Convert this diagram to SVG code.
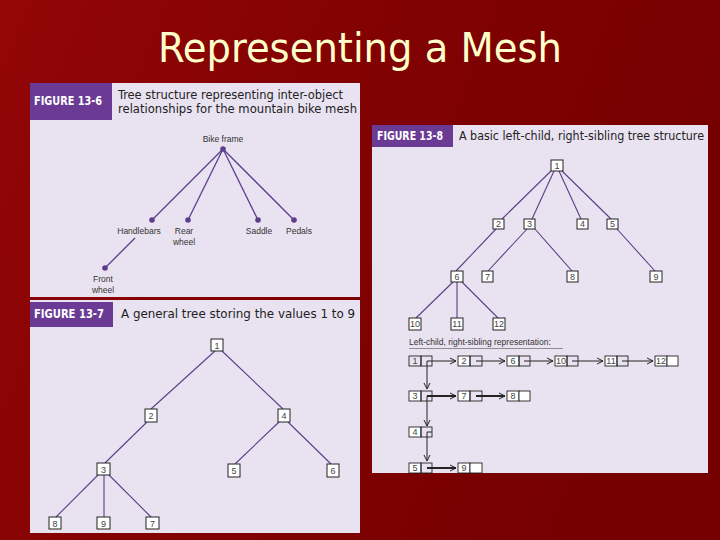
<svg xmlns="http://www.w3.org/2000/svg" width="720" height="540" viewBox="0 0 720 540">
<defs>
<linearGradient id="bg" x1="0" y1="0" x2="1" y2="0.3">
<stop offset="0" stop-color="#930606"/>
<stop offset="0.5" stop-color="#820202"/>
<stop offset="1" stop-color="#760000"/>
</linearGradient>
<marker id="ah" markerUnits="userSpaceOnUse" markerWidth="10" markerHeight="10" refX="7" refY="4" orient="auto">
<path d="M1,1 L7,4 L1,7" fill="none" stroke="#222" stroke-width="1"/>
</marker>
<style>
.panel{fill:#E9E3F1}
.hdr{fill:#6A3A95}
.fig{font-family:"DejaVu Sans Condensed","Liberation Sans Narrow","Liberation Sans",sans-serif;font-weight:bold;font-size:12px;fill:#fff}
.cap{font-family:"DejaVu Sans Condensed","Liberation Sans Narrow","Liberation Sans",sans-serif;font-size:12.5px;fill:#222}
.lbl{font-family:"Liberation Sans",Arial,sans-serif;font-size:8.5px;fill:#333;text-anchor:middle}
.edge{stroke:#5E3E8C;stroke-width:1.3;fill:none}
.edge2{stroke:#5B3E88;stroke-width:1.1;fill:none}
.dot{fill:#5E3E8C}
.box{fill:#fff;stroke:#222;stroke-width:1}
.num{font-family:"Liberation Sans",Arial,sans-serif;font-size:9px;fill:#444;text-anchor:middle}
.cell{fill:#fff;stroke:#222;stroke-width:0.9}
.ptr{stroke:#222;stroke-width:1;fill:none}
.ptrb{stroke:#222;stroke-width:2;fill:none}
</style>
</defs>
<rect x="0" y="0" width="720" height="540" fill="url(#bg)"/>
<text x="360" y="62" text-anchor="middle" font-family="'DejaVu Sans Condensed','Liberation Sans',sans-serif" font-size="40" fill="#FFFFCC" textLength="404" lengthAdjust="spacingAndGlyphs">Representing a Mesh</text>

<!-- Figure 13-6 -->
<g id="fig13-6">
<rect class="panel" x="30" y="83" width="330" height="214"/>
<rect class="hdr" x="30" y="83" width="82" height="37"/>
<text class="fig" x="34" y="105" textLength="68" lengthAdjust="spacingAndGlyphs">FIGURE 13-6</text>
<text class="cap" x="118" y="99" textLength="225" lengthAdjust="spacingAndGlyphs">Tree structure representing inter-object</text>
<text class="cap" x="118" y="113" textLength="239" lengthAdjust="spacingAndGlyphs">relationships for the mountain bike mesh</text>
</g>
<g id="bike-connectors">
<line class="edge" x1="223" y1="149" x2="152" y2="220"/>
<line class="edge" x1="223" y1="149" x2="188" y2="220"/>
<line class="edge" x1="223" y1="149" x2="258" y2="220"/>
<line class="edge" x1="223" y1="149" x2="294" y2="220"/>
<line class="edge" x1="135" y1="238" x2="105" y2="268"/>
</g>
<g id="bike-frame"><circle class="dot" cx="223" cy="149" r="2.8"/><text class="lbl" x="223" y="142">Bike frame</text></g>
<g id="handlebars"><circle class="dot" cx="152" cy="220" r="2.8"/><text class="lbl" x="139" y="234">Handlebars</text></g>
<g id="rear-wheel"><circle class="dot" cx="188" cy="220" r="2.8"/><text class="lbl" x="184" y="234">Rear</text><text class="lbl" x="184" y="245">wheel</text></g>
<g id="saddle"><circle class="dot" cx="258" cy="220" r="2.8"/><text class="lbl" x="259" y="234">Saddle</text></g>
<g id="pedals"><circle class="dot" cx="294" cy="220" r="2.8"/><text class="lbl" x="299" y="234">Pedals</text></g>
<g id="front-wheel"><circle class="dot" cx="105" cy="268" r="2.8"/><text class="lbl" x="103" y="282">Front</text><text class="lbl" x="103" y="293">wheel</text></g>

<!-- Figure 13-7 -->
<g id="fig13-7">
<rect class="panel" x="30" y="300" width="330" height="233"/>
<rect class="hdr" x="30" y="302" width="83" height="25"/>
<text class="fig" x="34" y="318" textLength="70" lengthAdjust="spacingAndGlyphs">FIGURE 13-7</text>
<text class="cap" x="121" y="318" textLength="234" lengthAdjust="spacingAndGlyphs">A general tree storing the values 1 to 9</text>
</g>
<g id="gt-connectors">
<line class="edge2" x1="215" y1="351" x2="151" y2="409"/>
<line class="edge2" x1="222" y1="351" x2="283" y2="409"/>
<line class="edge2" x1="147" y1="422" x2="105" y2="463"/>
<line class="edge2" x1="279" y1="422" x2="235" y2="464"/>
<line class="edge2" x1="288" y1="422" x2="331" y2="464"/>
<line class="edge2" x1="98" y1="475" x2="56" y2="517"/>
<line class="edge2" x1="104" y1="475" x2="104" y2="517"/>
<line class="edge2" x1="109" y1="475" x2="151" y2="517"/>
</g>
<g id="gt1"><rect class="box" x="211" y="339" width="12" height="12"/><text class="num" x="217" y="348.5">1</text></g>
<g id="gt2"><rect class="box" x="145" y="409" width="12" height="13"/><text class="num" x="151" y="419">2</text></g>
<g id="gt4"><rect class="box" x="278" y="409" width="12" height="13"/><text class="num" x="284" y="419">4</text></g>
<g id="gt3"><rect class="box" x="97" y="463" width="13" height="12"/><text class="num" x="103.5" y="472.5">3</text></g>
<g id="gt5"><rect class="box" x="228" y="464" width="12" height="13"/><text class="num" x="234" y="474">5</text></g>
<g id="gt6"><rect class="box" x="327" y="464" width="12" height="13"/><text class="num" x="333" y="474">6</text></g>
<g id="gt8"><rect class="box" x="49" y="517" width="12" height="12"/><text class="num" x="55" y="526.5">8</text></g>
<g id="gt9"><rect class="box" x="97" y="517" width="13" height="12"/><text class="num" x="103.5" y="526.5">9</text></g>
<g id="gt7"><rect class="box" x="146" y="517" width="13" height="12"/><text class="num" x="152.5" y="526.5">7</text></g>

<!-- Figure 13-8 -->
<g id="fig13-8">
<rect class="panel" x="372" y="125" width="336" height="348"/>
<rect class="hdr" x="372" y="125" width="81" height="22"/>
<text class="fig" x="377" y="140" textLength="66" lengthAdjust="spacingAndGlyphs">FIGURE 13-8</text>
<text class="cap" x="459" y="140" textLength="245" lengthAdjust="spacingAndGlyphs">A basic left-child, right-sibling tree structure</text>
</g>
<g id="lc-connectors">
<line class="edge2" x1="551" y1="171" x2="502" y2="219"/>
<line class="edge2" x1="554" y1="171" x2="532" y2="219"/>
<line class="edge2" x1="559" y1="171" x2="581" y2="219"/>
<line class="edge2" x1="562" y1="171" x2="611" y2="219"/>
<line class="edge2" x1="496" y1="229" x2="456" y2="271"/>
<line class="edge2" x1="527" y1="229" x2="488" y2="271"/>
<line class="edge2" x1="535" y1="229" x2="572" y2="271"/>
<line class="edge2" x1="617" y1="229" x2="655" y2="271"/>
<line class="edge2" x1="453" y1="282" x2="416" y2="318"/>
<line class="edge2" x1="457" y1="282" x2="457" y2="318"/>
<line class="edge2" x1="462" y1="282" x2="498" y2="318"/>
</g>
<g id="lc1"><rect class="box" x="551" y="160" width="12" height="11"/><text class="num" x="557" y="168.5">1</text></g>
<g id="lc2"><rect class="box" x="493" y="219" width="11" height="10"/><text class="num" x="498.5" y="227">2</text></g>
<g id="lc3"><rect class="box" x="524" y="219" width="11" height="10"/><text class="num" x="529.5" y="227">3</text></g>
<g id="lc4"><rect class="box" x="577" y="219" width="11" height="10"/><text class="num" x="582.5" y="227">4</text></g>
<g id="lc5"><rect class="box" x="607" y="219" width="11" height="10"/><text class="num" x="612.5" y="227">5</text></g>
<g id="lc6"><rect class="box" x="451" y="271" width="12" height="11"/><text class="num" x="457" y="279.5">6</text></g>
<g id="lc7"><rect class="box" x="482" y="271" width="11" height="11"/><text class="num" x="487.5" y="279.5">7</text></g>
<g id="lc8"><rect class="box" x="567" y="271" width="11" height="11"/><text class="num" x="572.5" y="279.5">8</text></g>
<g id="lc9"><rect class="box" x="650" y="271" width="12" height="11"/><text class="num" x="656" y="279.5">9</text></g>
<g id="lc10"><rect class="box" x="409" y="318" width="12" height="12"/><text class="num" x="415" y="327">10</text></g>
<g id="lc11"><rect class="box" x="451" y="318" width="12" height="12"/><text class="num" x="457" y="327">11</text></g>
<g id="lc12"><rect class="box" x="493" y="318" width="12" height="12"/><text class="num" x="499" y="327">12</text></g>

<text x="409" y="345" font-family="'Liberation Sans',Arial,sans-serif" font-size="8.5" fill="#333">Left-child, right-sibling representation:</text>
<line x1="409" y1="348.5" x2="563" y2="348.5" stroke="#777" stroke-width="0.8"/>

<g id="ll-connectors">
<path class="ptr" d="M427,361 H456" marker-end="url(#ah)"/>
<path class="ptr" d="M476,361 H505" marker-end="url(#ah)"/>
<path class="ptr" d="M524,361 H553" marker-end="url(#ah)"/>
<path class="ptr" d="M572,361 H603" marker-end="url(#ah)"/>
<path class="ptr" d="M622,361 H653" marker-end="url(#ah)"/>
<path class="ptr" d="M427,361 V389" marker-end="url(#ah)"/>
<path class="ptr" d="M427,396 V426" marker-end="url(#ah)"/>
<path class="ptr" d="M427,432 V461" marker-end="url(#ah)"/>
<path class="ptr" d="M427,432 H432"/>
<path class="ptrb" d="M427,396 H456" marker-end="url(#ah)"/>
<path class="ptrb" d="M476,396 H505" marker-end="url(#ah)"/>
<path class="ptrb" d="M427,468 H456" marker-end="url(#ah)"/>
</g>
<g id="ll1"><rect class="cell" x="409" y="356" width="12" height="10" fill-opacity="0"/><rect class="cell" x="421" y="356" width="11" height="10" fill-opacity="0"/><text class="num" x="415" y="364">1</text></g>
<g id="ll2"><rect class="cell" x="458" y="356" width="12" height="10"/><rect class="cell" x="470" y="356" width="12" height="10" fill-opacity="0"/><text class="num" x="464" y="364">2</text></g>
<g id="ll6"><rect class="cell" x="507" y="356" width="12" height="10"/><rect class="cell" x="519" y="356" width="11" height="10" fill-opacity="0"/><text class="num" x="513" y="364">6</text></g>
<g id="ll10"><rect class="cell" x="555" y="356" width="12" height="10"/><rect class="cell" x="567" y="356" width="11" height="10" fill-opacity="0"/><text class="num" x="561" y="364">10</text></g>
<g id="ll11"><rect class="cell" x="605" y="356" width="12" height="10"/><rect class="cell" x="617" y="356" width="11" height="10" fill-opacity="0"/><text class="num" x="611" y="364">11</text></g>
<g id="ll12"><rect class="cell" x="655" y="356" width="12" height="10"/><rect class="cell" x="667" y="356" width="11" height="10"/><text class="num" x="661" y="364">12</text></g>
<g id="ll3"><rect class="cell" x="409" y="391" width="12" height="10"/><rect class="cell" x="421" y="391" width="11" height="10" fill-opacity="0"/><text class="num" x="415" y="399">3</text></g>
<g id="ll7"><rect class="cell" x="458" y="391" width="12" height="10"/><rect class="cell" x="470" y="391" width="12" height="10" fill-opacity="0"/><text class="num" x="464" y="399">7</text></g>
<g id="ll8"><rect class="cell" x="507" y="391" width="12" height="10"/><rect class="cell" x="519" y="391" width="11" height="10"/><text class="num" x="513" y="399">8</text></g>
<g id="ll4"><rect class="cell" x="409" y="427" width="12" height="10"/><rect class="cell" x="421" y="427" width="11" height="10" fill-opacity="0"/><text class="num" x="415" y="435">4</text></g>
<g id="ll5"><rect class="cell" x="409" y="463" width="12" height="10"/><rect class="cell" x="421" y="463" width="11" height="10" fill-opacity="0"/><text class="num" x="415" y="471">5</text></g>
<g id="ll9"><rect class="cell" x="458" y="463" width="12" height="10"/><rect class="cell" x="470" y="463" width="12" height="10"/><text class="num" x="464" y="471">9</text></g>
</svg>
